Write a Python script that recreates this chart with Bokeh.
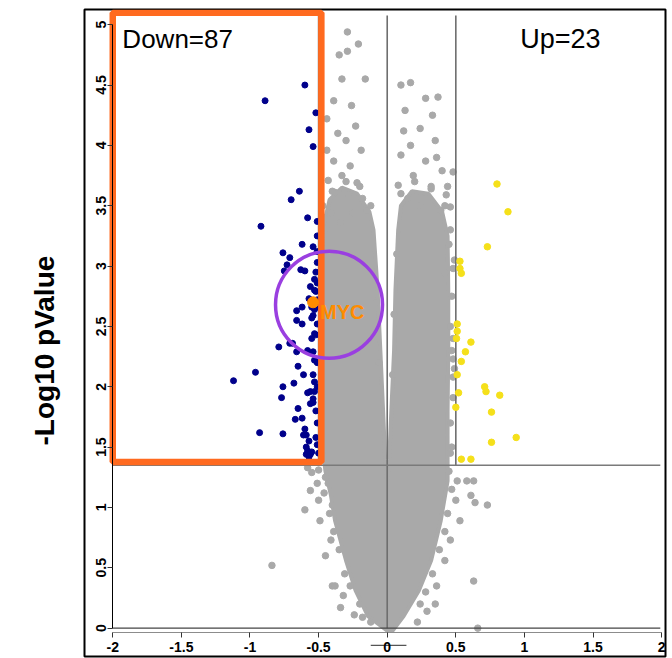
from bokeh.plotting import figure
from bokeh.models import Range1d, LinearAxis, FixedTicker, Label, Title
from bokeh.embed import file_html
from bokeh.resources import INLINE

# ---------------- data ----------------
# dense core of non-significant genes (outline of the solid grey cloud)
cloud_x = [0.00, -0.14, -0.23, -0.30, -0.38, -0.41, -0.45, -0.48, -0.48, -0.48, -0.48,
           -0.47, -0.42, -0.33, -0.22, -0.13, -0.10, -0.07, -0.05, -0.03, -0.015, 0.00,
           0.015, 0.03, 0.05, 0.06, 0.08, 0.10, 0.18, 0.30, 0.40, 0.44, 0.445, 0.445, 0.44,
           0.44, 0.39, 0.32, 0.23, 0.12, 0.04]
cloud_y = [-0.02, 0.10, 0.31, 0.56, 0.89, 1.10, 1.30, 1.60, 2.10, 2.60, 3.00,
           3.30, 3.55, 3.65, 3.60, 3.45, 3.30, 2.80, 2.30, 1.80, 1.40, 1.20,
           1.40, 1.80, 2.30, 2.80, 3.30, 3.50, 3.62, 3.60, 3.45, 3.25, 2.80, 2.30, 1.80,
           1.22, 0.89, 0.56, 0.31, 0.10, -0.02]

# scattered non-significant genes
gray_x = [-0.29, -0.21, -0.29, -0.35, -0.33, -0.16, -0.39, -0.26, -0.44, -0.23, -0.36, -0.30,
          -0.44, -0.19, -0.39, -0.27, -0.33, -0.43, -0.22, -0.38, -0.28, -0.18, -0.47, -0.41,
          -0.25, -0.15, -0.34, -0.44,
          0.10, 0.17, 0.28, 0.37, 0.33, 0.12, 0.24, 0.17, 0.35, 0.10, 0.28, 0.40, 0.19, 0.08,
          0.32, 0.15, 0.24, 0.43, 0.39, 0.36, 0.13,
          0.48, 0.44, 0.46, 0.45, 0.49, 0.48, 0.42, 0.48, 0.48, 0.49, 0.48, 0.48,
          0.51, 0.58, 0.63, 0.61, 0.50, 0.64, 0.73, 0.53, 0.46, 0.42, 0.36, 0.63, 0.35, 0.24,
          0.29, 0.22, 0.66,
          -0.58, -0.55, -0.50, -0.45, -0.51, -0.46, -0.50, -0.40, -0.56, -0.60, -0.49, -0.41,
          -0.45, -0.84, -0.40, -0.38, -0.32, -0.34, -0.24, -0.18,
          # along the edge of the dense cloud
          0.46, 0.47, 0.46, 0.47, 0.46, 0.47, 0.46, 0.45, 0.47, 0.44, 0.42, 0.38, 0.33, 0.28,
          -0.43, -0.42, -0.39, -0.35, -0.31, -0.27, -0.20, -0.12,
          -0.46, -0.40, -0.30, -0.20, -0.12, 0.10, 0.20, 0.32, 0.42,
          -0.11, -0.08, -0.06, 0.07, 0.05, 0.04]
gray_y = [4.94, 4.84, 4.78, 4.75, 4.55, 4.55, 4.37, 4.33, 4.22, 4.16, 4.10, 4.04,
          3.96, 3.96, 3.87, 3.83, 3.75, 3.71, 3.69, 3.61, 3.59, 3.56, 3.50, 3.44,
          3.44, 3.46, 3.36, 3.31,
          4.50, 4.52, 4.39, 4.40, 4.25, 4.12, 4.14, 4.00, 4.04, 3.92, 3.87, 3.79, 3.75, 3.67,
          3.64, 3.56, 3.50, 3.59, 3.46, 3.90, 4.29,
          3.78, 3.66, 3.49, 3.18, 3.05, 2.98, 2.94, 2.40, 2.23, 2.15, 2.08, 1.91,
          1.22, 1.22, 1.22, 1.10, 1.06, 1.04, 1.02, 0.89, 0.73, 0.56, 0.35, 0.39, 0.20, 0.20,
          0.14, 0.05, 0.00,
          1.33, 1.29, 1.31, 1.25, 1.20, 1.12, 1.06, 1.02, 1.14, 0.98, 0.89, 0.73,
          0.60, 0.52, 0.35, 0.35, 0.27, 0.17, 0.11, 0.09,
          3.30, 2.75, 2.50, 2.30, 1.70, 1.50, 1.45, 1.30, 1.15, 0.95, 0.80, 0.65, 0.45, 0.30,
          1.20, 0.95, 0.80, 0.65, 0.45, 0.35, 0.20, 0.05,
          3.40, 3.62, 3.70, 3.66, 3.50, 3.60, 3.70, 3.66, 3.50,
          3.20, 2.70, 2.20, 3.10, 2.60, 2.10]

# down-regulated genes (87)
down_x = [-0.60, -0.89, -0.52, -0.57, -0.54, -0.64, -0.70, -0.58, -0.92, -0.51,
          -0.51, -0.62, -0.54, -0.51, -0.76, -0.71, -0.73, -0.75, -0.63, -0.60,
          -0.53, -0.56, -0.53, -0.52, -0.57, -0.62, -0.55, -0.54, -0.53, -0.52,
          -0.66, -0.62, -0.54, -0.55, -0.66, -0.53, -0.52, -0.79, -0.71, -0.66,
          -0.58, -0.54, -0.65, -0.96, -0.61, -0.54, -1.12, -0.53, -0.68, -0.76,
          -0.58, -0.56, -0.53, -0.77, -0.54, -0.54, -0.56, -0.65, -0.67, -0.62,
          -0.60, -0.61, -0.59, -0.93, -0.76, -0.52, -0.57, -0.59, -0.58, -0.56,
          -0.59, -0.55, -0.57, -0.69, -0.51, -0.51, -0.51, -0.51, -0.51, -0.51,
          -0.52, -0.52, -0.51, -0.50, -0.53, -0.55, -0.51]
down_y = [4.50, 4.37, 4.27, 4.13, 3.99, 3.62, 3.55, 3.40, 3.33, 3.37,
          3.25, 3.18, 3.16, 3.12, 3.11, 3.07, 3.01, 2.96, 2.97, 2.96,
          2.89, 2.83, 2.80, 2.79, 2.73, 2.66, 2.66, 2.67, 2.64, 2.66,
          2.63, 2.52, 2.59, 2.57, 2.55, 2.44, 2.43, 2.33, 2.36, 2.29,
          2.30, 2.29, 2.17, 2.12, 2.10, 2.10, 2.05, 2.04, 2.03, 2.00,
          1.95, 1.96, 1.96, 1.91, 1.90, 1.87, 1.86, 1.82, 1.73, 1.74,
          1.65, 1.60, 1.60, 1.62, 1.61, 1.58, 1.55, 1.50, 1.47, 1.44,
          1.44, 1.46, 1.42, 2.36, 2.00, 2.20, 2.52, 2.72, 1.70, 1.52,
          1.80, 2.95, 3.03, 1.45, 2.22, 2.40, 2.86]

# up-regulated genes (23)
up_x = [0.80, 0.88, 0.73, 0.53, 0.53, 0.54, 0.51, 0.505, 0.61, 0.57, 0.54, 0.71,
        0.72, 0.82, 0.50, 0.76, 0.94, 0.76, 0.54, 0.61, 0.51, 0.52, 0.51]
up_y = [3.68, 3.45, 3.16, 3.04, 2.98, 2.94, 2.46, 2.40, 2.37, 2.29, 2.21, 2.00,
        1.96, 1.93, 1.83, 1.79, 1.58, 1.54, 1.40, 1.40, 2.52, 1.95, 2.10]

myc_x = [-0.54]
myc_y = [2.70]
myc_name = "MYC"

down_label = "Down=87"
up_label = "Up=23"
y_title = "-Log10 pValue"

x_ticks = [-2, -1.5, -1, -0.5, 0, 0.5, 1, 1.5, 2]
x_tick_labels = ["-2", "-1.5", "-1", "-0.5", "0", "0.5", "1", "1.5", "2"]
y_ticks = [0, 0.5, 1, 1.5, 2, 2.5, 3, 3.5, 4, 4.5, 5]
y_tick_labels = ["0", "0.5", "1", "1.5", "2", "2.5", "3", "3.5", "4", "4.5", "5"]

FC_CUT = 0.5        # |log2FC| threshold
P_CUT = 1.35        # -log10 p threshold
X_LO, X_HI = -2.0, 1.99
Y_TOP = 5.076

# highlight box and circle
BOX = dict(left=-2.0, right=-0.48, bottom=1.377, top=5.10)
CIRCLE_X, CIRCLE_Y = -0.424, 2.68

GRAY = "#A9A9A9"
BLUE = "#00008B"
YELLOW = "#F5E01A"
ORANGE_BOX = "#FF6A1F"
ORANGE_MYC = "#FF8C00"
PURPLE = "#9A3FE0"
FONT = "Liberation Sans"

# ---------------- figure ----------------
p = figure(width=667, height=658,
           x_range=Range1d(-2.206, 2.028), y_range=Range1d(-0.235, 5.126),
           x_axis_location=None, y_axis_location=None,
           output_backend="svg", toolbar_location=None,
           min_border_left=84, min_border_right=2, min_border_top=9, min_border_bottom=2,
           background_fill_color="white", border_fill_color="white")
p.grid.grid_line_color = None
p.outline_line_color = "black"
p.outline_line_width = 2

# axes drawn inside the box, as in the reference
xaxis = LinearAxis(fixed_location=-0.036, ticker=FixedTicker(ticks=x_ticks),
                   bounds=(x_ticks[0], x_ticks[-1]),
                   major_label_overrides={t: s for t, s in zip(x_ticks, x_tick_labels)})
xaxis.axis_line_color = "#8c8c8c"
xaxis.major_tick_line_color = "#333333"
xaxis.major_tick_out = 5
xaxis.major_tick_in = 0
xaxis.minor_tick_line_color = None
xaxis.major_label_standoff = 5
xaxis.major_label_text_font = FONT
xaxis.major_label_text_font_style = "bold"
xaxis.major_label_text_font_size = "14px"
xaxis.major_label_text_color = "black"
p.add_layout(xaxis, "below")

yaxis = LinearAxis(fixed_location=-2.0, ticker=FixedTicker(ticks=y_ticks),
                   bounds=(y_ticks[0], y_ticks[-1]),
                   major_label_overrides={t: s for t, s in zip(y_ticks, y_tick_labels)})
yaxis.axis_line_color = "black"
yaxis.major_tick_line_color = "#333333"
yaxis.major_tick_out = 5
yaxis.major_tick_in = 0
yaxis.minor_tick_line_color = None
yaxis.major_label_standoff = 2
yaxis.major_label_orientation = "vertical"
yaxis.major_label_text_font = FONT
yaxis.major_label_text_font_style = "bold"
yaxis.major_label_text_font_size = "14px"
yaxis.major_label_text_color = "black"
p.add_layout(yaxis, "left")

# y title outside the box
p.add_layout(Title(text=y_title, align="left", offset=211, standoff=50,
                   text_font=FONT, text_font_style="bold", text_font_size="28px",
                   text_color="black"), "left")

# points
p.patch(cloud_x, cloud_y, fill_color=GRAY, line_color=GRAY, line_width=4)
p.scatter(gray_x, gray_y, size=6.5, color=GRAY)

# threshold lines
p.segment(x0=[-FC_CUT, FC_CUT, 0], y0=[P_CUT, P_CUT, 0], x1=[-FC_CUT, FC_CUT, 0],
          y1=[Y_TOP, Y_TOP, Y_TOP], line_color="#6e6e6e", line_width=1.6)
p.segment(x0=[X_LO], y0=[P_CUT], x1=[X_HI], y1=[P_CUT], line_color="#7a7a7a", line_width=1.6)
p.segment(x0=[X_LO], y0=[0], x1=[X_HI], y1=[0], line_color="#444444", line_width=1.4)
p.segment(x0=[-0.12], y0=[-0.143], x1=[0.14], y1=[-0.143], line_color="#555555", line_width=1.2)

p.scatter(down_x, down_y, size=6, color=BLUE)
p.scatter(up_x, up_y, size=6.5, color=YELLOW)

# highlight box and circle
p.quad(**BOX, fill_color=None, line_color=ORANGE_BOX, line_width=6.5)
p.scatter(myc_x, myc_y, size=11, color=ORANGE_MYC)
p.circle(x=[CIRCLE_X], y=[CIRCLE_Y], radius=53.5, radius_units="screen",
         fill_color=None, line_color=PURPLE, line_width=3.5)

p.add_layout(Label(x=myc_x[0], y=myc_y[0], x_offset=7, y_offset=-10, text=myc_name,
                   text_baseline="middle", text_font=FONT, text_font_style="bold",
                   text_font_size="20px", text_color=ORANGE_MYC))
p.add_layout(Label(x=-1.93, y=4.885, text=down_label, text_baseline="middle",
                   text_font=FONT, text_font_size="26px", text_color="black"))
p.add_layout(Label(x=0.97, y=4.885, text=up_label, text_baseline="middle",
                   text_font=FONT, text_font_size="27px", text_color="black"))

open("out.html", "w").write(file_html(p, INLINE))
